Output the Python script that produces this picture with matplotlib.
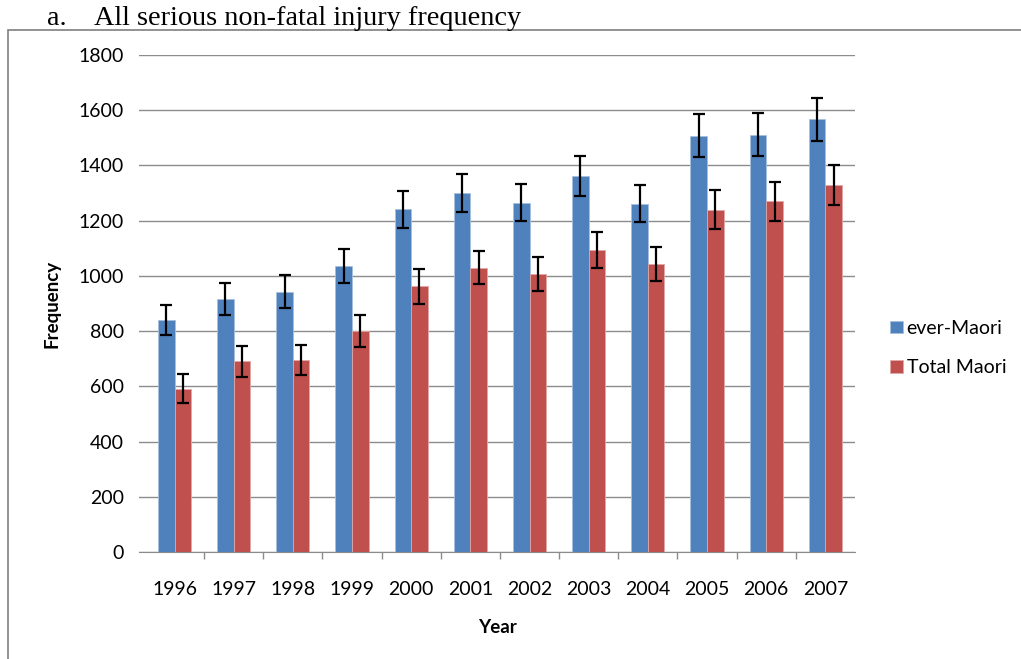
import matplotlib.pyplot as plt
import numpy as np
from matplotlib.patches import Rectangle

# data
years = ['1996', '1997', '1998', '1999', '2000', '2001', '2002', '2003', '2004', '2005', '2006', '2007']
ever_maori = [840, 916, 942, 1035, 1242, 1300, 1265, 1362, 1262, 1508, 1512, 1568]
ever_maori_err = [55, 57, 60, 62, 67, 70, 67, 72, 67, 77, 77, 78]
total_maori = [592, 690, 695, 800, 962, 1030, 1008, 1095, 1043, 1240, 1270, 1328]
total_maori_err = [52, 55, 55, 57, 63, 60, 62, 65, 62, 70, 70, 72]

blue = '#4F81BD'
red = '#C0504D'
font = ['Lato', 'DejaVu Sans']

fig = plt.figure(figsize=(10.21, 6.59), dpi=100)
ax = fig.add_axes([139/1021, 1 - 552/659, (855-139)/1021, (552-55)/659])

x = np.arange(len(years))
w = 0.28
ax.bar(x - w/2, ever_maori, w, color=blue, edgecolor='#A7C0DE', linewidth=0.6,
       yerr=ever_maori_err, capsize=4.5, error_kw=dict(ecolor='black', elinewidth=1.6, capthick=1.6),
       label='ever-Maori', zorder=3)
ax.bar(x + w/2, total_maori, w, color=red, edgecolor='#DFA7A6', linewidth=0.6,
       yerr=total_maori_err, capsize=4.5, error_kw=dict(ecolor='black', elinewidth=1.6, capthick=1.6),
       label='Total Maori', zorder=3)

ax.set_xlim(-0.6, 11.5)
ax.set_ylim(0, 1800)
ax.set_yticks(range(0, 1801, 200))
ax.grid(axis='y', color='#8C8C8C', linewidth=1.0, zorder=0)
ax.set_xticks(x)
ax.set_xticklabels(years, family=font, fontsize=14)
for lab in ax.get_yticklabels():
    lab.set_family(font)
    lab.set_fontsize(14)
ax.tick_params(axis='y', length=0, pad=11)
ax.tick_params(axis='x', length=0, pad=21)
# minor ticks between year groups
ax.set_xticks(np.arange(0.5, 11, 1), minor=True)
ax.tick_params(axis='x', which='minor', length=5, color='#8C8C8C', width=1)

for s in ['top', 'right', 'left']:
    ax.spines[s].set_visible(False)
ax.spines['bottom'].set_color('#8C8C8C')

ax.set_xlabel('Year', family=font, fontsize=13.5, fontweight='bold', labelpad=15)
ax.set_ylabel('Frequency', family=font, fontsize=13.5, fontweight='bold', labelpad=13)

leg = ax.legend(loc='center left', bbox_to_anchor=(890/1021, 1 - 348/659), bbox_transform=fig.transFigure,
                frameon=False, borderaxespad=0, borderpad=0,
                prop={'family': font, 'size': 14}, handlelength=0.65, handleheight=0.65,
                handletextpad=0.2, labelspacing=1.15)

# outer border box and caption
fig.patches.append(Rectangle((8/1021, -0.1), 1.2, 0.1 + 1 - 30/659, transform=fig.transFigure,
                             fill=False, edgecolor='#7F7F7F', linewidth=1.2))
fig.text(47/1021, 1 - 25/659, 'a.', family='Liberation Serif', fontsize=20.3)
fig.text(94/1021, 1 - 25/659, 'All serious non-fatal injury frequency', family='Liberation Serif', fontsize=20.3)

fig.savefig('out.png', dpi=100)
